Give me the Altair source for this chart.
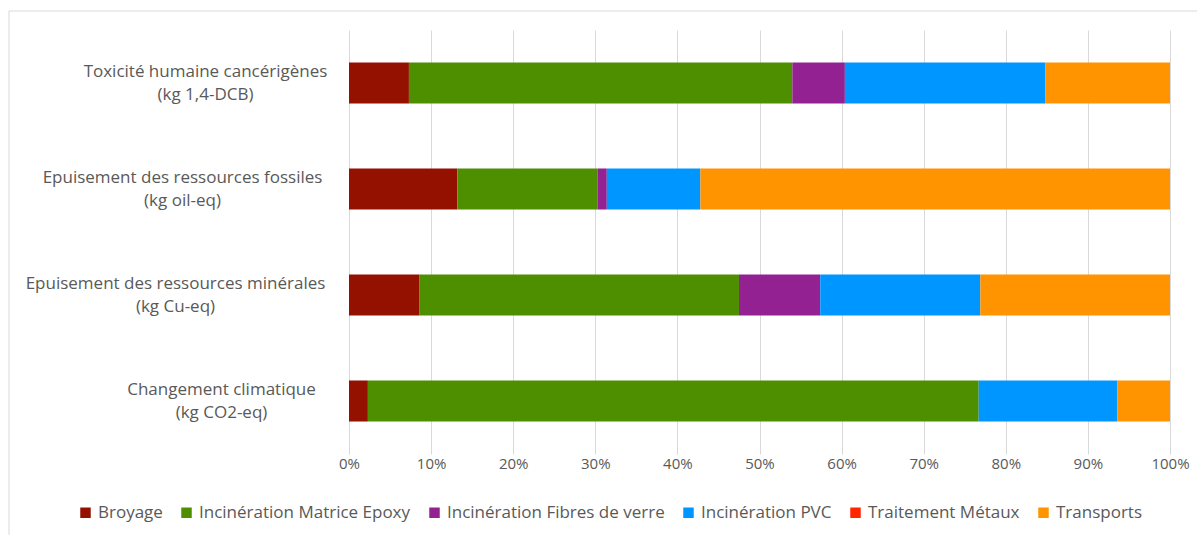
import altair as alt
import pandas as pd

categories = [
    "Toxicité humaine cancérigènes (kg 1,4-DCB)",
    "Epuisement des ressources fossiles (kg oil-eq)",
    "Epuisement des ressources minérales (kg Cu-eq)",
    "Changement climatique (kg CO2-eq)",
]
series = [
    "Broyage",
    "Incinération Matrice Epoxy",
    "Incinération Fibres de verre",
    "Incinération PVC",
    "Traitement Métaux",
    "Transports",
]
colors = ["#941100", "#4E8F00", "#942192", "#0096FF", "#FF2600", "#FF9300"]

# percent shares per category, in series order
broyage = [7.3, 13.2, 8.6, 2.3]
epoxy = [46.7, 17.1, 38.9, 74.4]
fibres = [6.4, 1.1, 9.9, 0.0]
pvc = [24.4, 11.4, 19.5, 16.9]
metaux = [0.0, 0.0, 0.0, 0.0]
transports = [15.2, 57.2, 23.1, 6.4]

tick_values = [i / 10 for i in range(11)]

values = [broyage, epoxy, fibres, pvc, metaux, transports]
rows = []
for si, (s, vals) in enumerate(zip(series, values)):
    for c, v in zip(categories, vals):
        rows.append({"cat": c, "serie": s, "order": si, "share": v / 100})
df = pd.DataFrame(rows)

FONT = "Open Sans"
TXT = "#595959"

# label block centres (distance from plot's left edge)
label_pad = {categories[0]: 144, categories[1]: 167, categories[2]: 174, categories[3]: 128}
pad_expr = " : ".join(
    f"datum.value == '{k}' ? {v}" for k, v in label_pad.items()
) + " : 150"

bars = alt.Chart(df).mark_bar().encode(
    y=alt.Y(
        "cat:N",
        sort=categories,
        title=None,
        scale=alt.Scale(paddingInner=0.613, paddingOuter=0.3065),
        axis=alt.Axis(
            domain=False,
            ticks=False,
            tickSize=0,
            grid=False,
            labelAlign="center",
            labelBaseline="middle",
            labelFont=FONT,
            labelFontSize=17,
            labelColor=TXT,
            labelLineHeight=23,
            labelLimit=0,
            labelOffset=-11,
            labelPadding={"expr": pad_expr},
            labelExpr="[slice(datum.label, 0, indexof(datum.label, ' (')), slice(datum.label, indexof(datum.label, ' (') + 1)]",
        ),
    ),
    x=alt.X(
        "share:Q",
        stack="zero",
        title=None,
        scale=alt.Scale(domain=[0, 1], nice=False),
        axis=alt.Axis(
            values=tick_values,
            format=".0%",
            domain=False,
            ticks=False,
            grid=True,
            gridColor="#D9D9D9",
            gridWidth=1,
            labelFont=FONT,
            labelFontSize=15,
            labelColor=TXT,
            labelPadding=2,
            labelFlush=False,
        ),
    ),
    color=alt.Color(
        "serie:N",
        sort=series,
        scale=alt.Scale(domain=series, range=colors),
        legend=alt.Legend(
            title=None,
            orient="none",
            direction="horizontal",
            legendX=-272,
            legendY=474,
            symbolType="square",
            symbolSize=110,
            symbolStrokeWidth=0,
            labelFont=FONT,
            labelFontSize=17,
            labelColor=TXT,
            labelOffset=4,
            columnPadding=15,
            labelLimit=0,
            padding=0,
        ),
    ),
    order=alt.Order("order:Q"),
)

frame = alt.Chart(alt.Data(values=[{}])).mark_rect(
    fillOpacity=0, stroke="#D9D9D9", strokeWidth=1
).encode(
    x=alt.value(-340), x2=alt.value(900), y=alt.value(-19), y2=alt.value(600)
)

chart = alt.layer(frame, bars).properties(
    width=821,
    height=424,
    padding={"left": 349, "top": 30, "right": 27, "bottom": 81},
    autosize=alt.AutoSizeParams(type="none"),
    background="white",
).configure_view(stroke=None)

chart.save("out.html", embed_options={"renderer": "svg", "actions": False})
